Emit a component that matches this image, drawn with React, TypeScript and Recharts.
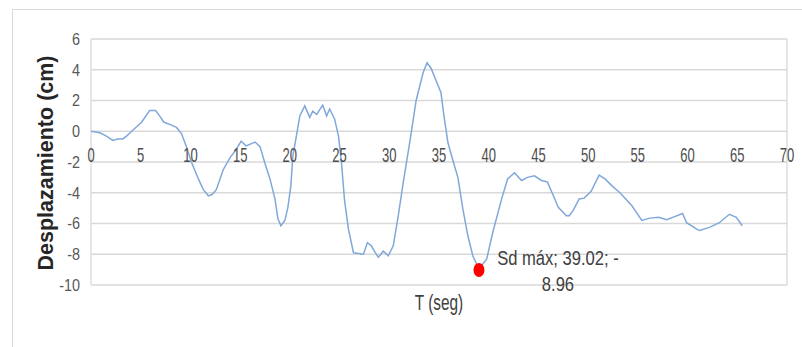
import { LineChart, Line, XAxis, YAxis, CartesianGrid, ReferenceDot, Label } from 'recharts'

// Time (s) and displacement (cm) samples of the response history
const tSeg = [
  0, 0.9, 1.5, 2.2, 2.7, 3.2, 3.6, 4.1, 5.1, 5.9, 6.5, 6.9, 7.3, 8.1, 8.6, 9.1, 9.6, 10.1, 10.8, 11.3,
  11.8, 12.2, 12.6, 13.3, 14.0, 14.6, 15.1, 15.6, 16.5, 17.0, 17.5, 18.0, 18.5, 18.8, 19.1, 19.5, 19.8, 20.1,
  20.3, 20.7, 21.0, 21.5, 22.0, 22.3, 22.7, 23.3, 23.7, 24.0, 24.5, 24.9, 25.2, 25.5, 25.9, 26.4, 26.9, 27.4,
  27.8, 28.2, 28.5, 28.9, 29.4, 29.9, 30.4, 30.9, 31.4, 32.1, 32.7, 33.4, 33.8, 34.2, 34.7, 35.2, 35.5, 35.9,
  36.4, 36.9, 37.4, 37.9, 38.4, 39.02, 39.8, 40.4, 41.3, 41.9, 42.6, 43.3, 43.9, 44.6, 45.3, 45.9, 46.5, 47.0,
  47.8, 48.1, 48.5, 49.1, 49.6, 50.3, 51.1, 51.7, 52.4, 53.2, 54.4, 55.4, 56.2, 57.1, 57.9, 58.7, 59.5, 59.9,
  61.0, 61.2, 62.2, 63.2, 64.2, 64.9, 65.5,
]
const desp = [
  0, -0.1, -0.3, -0.6, -0.5, -0.5, -0.3, 0, 0.6, 1.35, 1.35, 1.0, 0.6, 0.4, 0.25, -0.15, -1.0, -2.0, -3.1, -3.8,
  -4.2, -4.1, -3.8, -2.5, -1.7, -1.2, -0.65, -0.95, -0.7, -1.0, -2.1, -3.1, -4.4, -5.7, -6.15, -5.8, -4.95, -3.55,
  -1.6, -0.15, 1.0, 1.65, 0.9, 1.3, 1.1, 1.7, 1.0, 1.45, 0.8, -0.35, -2.1, -4.5, -6.4, -7.9, -7.95, -8.0,
  -7.25, -7.45, -7.8, -8.2, -7.8, -8.1, -7.45, -5.5, -3.35, -0.55, 2.0, 3.8, 4.45, 4.1, 3.3, 2.5, 1.0, -0.75,
  -1.9, -3.0, -5.05, -6.8, -8.1, -8.96, -8.3, -6.6, -4.4, -3.1, -2.7, -3.2, -3.0, -2.9, -3.2, -3.3, -4.2, -4.95,
  -5.5, -5.5, -5.15, -4.4, -4.35, -3.9, -2.85, -3.1, -3.55, -4.0, -4.85, -5.8, -5.65, -5.6, -5.75, -5.55, -5.35, -5.95,
  -6.4, -6.45, -6.25, -5.95, -5.4, -5.6, -6.15,
]

const xTicks = [0, 5, 10, 15, 20, 25, 30, 35, 40, 45, 50, 55, 60, 65, 70]
const yTicks = [-10, -8, -6, -4, -2, 0, 2, 4, 6]

// peak displacement marker
const sdMax = { t: 39.02, d: -8.96 }

const data = tSeg.map((t, i) => ({ t, d: desp[i] }))

const sans = '"Liberation Sans", Arial, sans-serif'

const YTitle = ({ viewBox }: any) => {
  const cy = viewBox.y + viewBox.height / 2
  return (
    <text
      transform={`translate(${viewBox.x + 46}, ${cy + 1}) rotate(-90)`}
      textAnchor="middle"
      dominantBaseline="central"
      fontFamily={sans}
      fontWeight="bold"
      fontSize={21.5}
      fill="#262626"
    >
      Desplazamiento (cm)
    </text>
  )
}

const XTitle = ({ viewBox }: any) => (
  <text
    transform={`translate(${viewBox.x + viewBox.width / 2}, ${viewBox.y + 25}) scale(0.7, 1)`}
    textAnchor="middle"
    fontFamily={sans}
    fontSize={22}
    fill="#404040"
  >
    T (seg)
  </text>
)

const YTick = ({ x, y, payload }: any) => (
  <text
    transform={`translate(${x}, ${y}) scale(0.9, 1)`}
    textAnchor="end"
    dominantBaseline="central"
    fontFamily={sans}
    fontSize={16}
    fill="#595959"
  >
    {payload.value}
  </text>
)

// x labels sit just under the zero line, like an axis crossing at y = 0
const zeroTick = (t: number) => (p: any) => (
  <text
    transform={`translate(${p.cx}, ${p.cy + 31}) scale(0.62, 1)`}
    textAnchor="middle"
    fontFamily={sans}
    fontSize={21}
    fill="#4d4d4d"
  >
    {t}
  </text>
)

const sdShape = (p: any) => (
  <g>
    <ellipse cx={p.cx} cy={p.cy + 1} rx={5.5} ry={7} fill="#ff0000" />
    <g transform={`translate(${p.cx + 79}, 0) scale(0.79, 1)`}>
      <text x={0} y={p.cy - 4} textAnchor="middle" fontFamily={sans} fontSize={21} fill="#404040">
        {`Sd máx; ${sdMax.t.toFixed(2)}; -`}
      </text>
      <text x={0} y={p.cy + 22} textAnchor="middle" fontFamily={sans} fontSize={21} fill="#404040">
        {Math.abs(sdMax.d).toFixed(2)}
      </text>
    </g>
  </g>
)

export default function App() {
  return (
    <div style={{ position: 'relative', width: 802, height: 347, overflow: 'hidden', background: '#fff' }}>
      <style>{'body{margin:0}'}</style>
      <div
        style={{
          position: 'absolute',
          left: 12,
          top: 9,
          width: 820,
          height: 400,
          border: '1px solid #d9d9d9',
          boxSizing: 'border-box',
        }}
      />
      <div style={{ position: 'absolute', left: 0, top: 0 }}>
        <LineChart width={802} height={347} data={data} margin={{ top: 39, right: 15, left: 0, bottom: 22 }}>
          <CartesianGrid stroke="#d9d9d9" strokeWidth={1.3} />
          <XAxis
            dataKey="t"
            type="number"
            domain={[0, 70]}
            ticks={xTicks}
            tick={false}
            axisLine={false}
            tickLine={false}
            height={40}
          >
            <Label content={<XTitle />} />
          </XAxis>
          <YAxis
            type="number"
            domain={[-10, 6]}
            ticks={yTicks}
            width={91}
            axisLine={false}
            tickLine={false}
            tickMargin={5}
            tick={<YTick />}
          >
            <Label content={<YTitle />} />
          </YAxis>
          <Line
            type="linear"
            dataKey="d"
            stroke="#80a8da"
            strokeWidth={1.5}
            dot={false}
            isAnimationActive={false}
          />
          {xTicks.map((t) => (
            <ReferenceDot key={t} x={t} y={0} r={1} shape={zeroTick(t)} />
          ))}
          <ReferenceDot x={sdMax.t} y={sdMax.d} r={6} shape={sdShape} />
        </LineChart>
      </div>
    </div>
  )
}
